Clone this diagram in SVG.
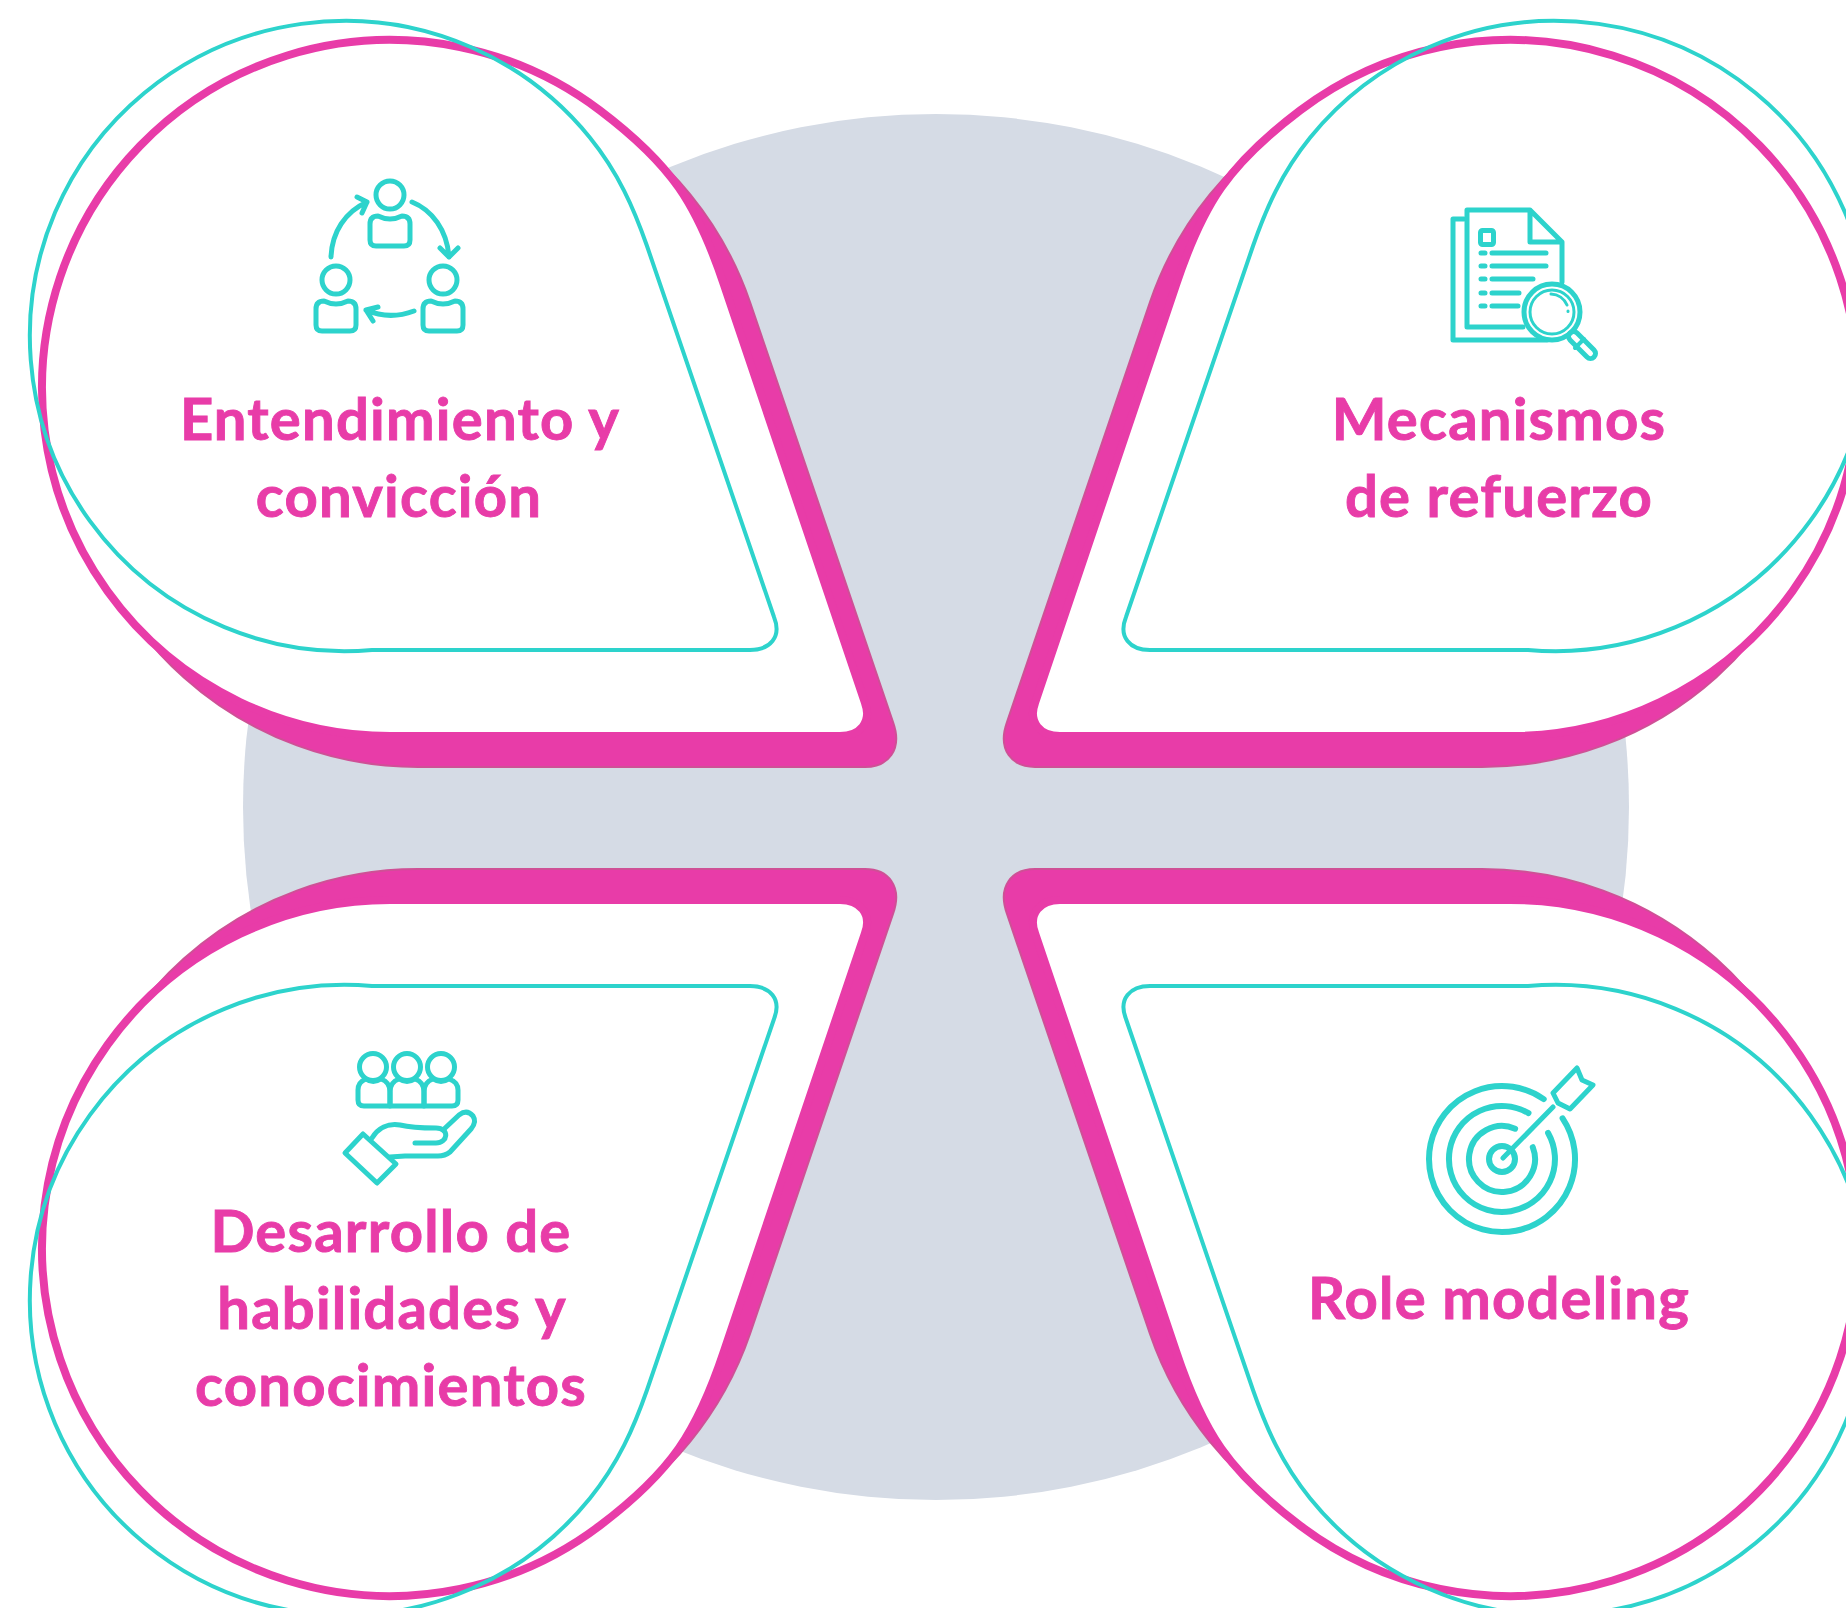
<svg xmlns="http://www.w3.org/2000/svg" xmlns:xlink="http://www.w3.org/1999/xlink" width="1846" height="1608" viewBox="0 0 1846 1608">
<style>
.rim{fill:#E83CA8;stroke:#CF5096;stroke-width:2}
.face{fill:#fff;stroke:#E83CA8;stroke-width:8}
.line{fill:none;stroke:#2DD3CC;stroke-width:4}
.ic{fill:none;stroke:#2DD3CC;stroke-width:5;stroke-linecap:round;stroke-linejoin:round}
.lbl{font-family:"Lato","Liberation Sans",sans-serif;font-weight:700;font-size:58px;letter-spacing:1.2px;fill:#E83CA8;stroke:#E83CA8;stroke-width:.9px;text-anchor:middle}
</style>
<defs>
<g id="drop">
<path class="rim" d="M750,302 L893,722 C903,750 888,767 865,767 L418,767 A351,351 0 1 1 750,302 Z"/>
<path class="face" d="M724,285 L865,703 C872,722 860,736 840,736 L390,736 A348,348 0 1 1 600,110.5 C671.8,164.8 697,204 724,285 Z"/>
<path class="line" d="M647,246 L774,617 C782,637 770,650 750,650 L372,650 A315.16,315.16 0 1 1 590,137.76 C618.3,172.7 633.8,208.2 647,246 Z"/>
</g>
<g id="person">
<circle class="ic" cx="0" cy="0" r="14"/>
<path class="ic" d="M-12,21 Q0,27 12,21 Q20,21 20,29 V45 Q20,51 14,51 H-14 Q-20,51 -20,45 V29 Q-20,21 -12,21 Z"/>
</g>
</defs>
<rect width="1846" height="1608" fill="#fff"/>
<circle id="backdrop" cx="936" cy="807" r="693" fill="#D5DBE5"/>
<g id="connectors"></g>
<g id="node-entendimiento">
<use href="#drop"/>
<use href="#person" x="390" y="195"/>
<use href="#person" x="336" y="280"/>
<use href="#person" x="443" y="280"/>
<path class="ic" d="M331,257 C332,232 345,212 367,202 M357,197 L367,202 L362,213"/>
<path class="ic" d="M412,202 C432,210 447,230 449,257 M440,248 L449,257 L458,248"/>
<path class="ic" d="M414,311 C398,317 382,317 366,310 M378,307 L366,310 L373,321"/>
<text class="lbl" x="400" y="440">Entendimiento y</text>
<text class="lbl" x="399" y="517">convicción</text>
</g>
<g id="node-mecanismos">
<use href="#drop" transform="translate(1900,0) scale(-1,1)"/>
<path class="ic" d="M1464,219 H1453 V340 H1547"/>
<path class="ic" d="M1523,327 H1467 V210 H1530 L1562,242 V282 M1530,210 V242 H1562"/>
<rect class="ic" x="1480.5" y="230.5" width="13" height="14" rx="2"/>
<path class="ic" d="M1481,253 H1485 M1492,253 H1546 M1481,266 H1485 M1492,266 H1546 M1481,279 H1485 M1492,279 H1533 M1481,293 H1485 M1492,293 H1519 M1481,306 H1485 M1492,306 H1518"/>
<circle class="ic" cx="1552" cy="312" r="28"/>
<circle class="ic" cx="1552" cy="312" r="22" style="stroke-width:3"/>
<path class="ic" d="M1551,294 A18,18 0 0 1 1567,305 M1568,311 V311.5" style="stroke-width:3"/>
<rect class="ic" x="0" y="-5" width="34" height="10" rx="5" transform="translate(1570,333) rotate(45)"/>
<path class="ic" d="M1575,348 L1584,339" style="stroke-width:4"/>
<text class="lbl" x="1499" y="440">Mecanismos</text>
<text class="lbl" x="1499" y="517">de refuerzo</text>
</g>
<g id="node-desarrollo">
<use href="#drop" transform="translate(0,1636) scale(1,-1)"/>
<circle class="ic" cx="373" cy="1067" r="13.5"/>
<circle class="ic" cx="407" cy="1067" r="13.5"/>
<circle class="ic" cx="441" cy="1067" r="13.5"/>
<path class="ic" d="M366,1079 Q373,1084 381,1079 Q390,1082 390,1092 V1106 H364 Q358,1106 358,1100 V1090 Q358,1082 366,1079 Z"/>
<path class="ic" d="M399,1079 Q407,1084 415,1079 Q424,1082 424,1092 V1106 H390 V1092 Q390,1082 399,1079 Z"/>
<path class="ic" d="M433,1079 Q441,1084 449,1079 Q458,1082 458,1090 V1100 Q458,1106 452,1106 H424 V1092 Q424,1082 433,1079 Z"/>
<path class="ic" d="M363,1134 L345,1153 L377,1183 L396,1164 Z"/>
<path class="ic" d="M372,1138 C378,1128 388,1123 400,1125 C412,1128 425,1128 436,1128 C450,1128 448,1143 436,1143 H415"/>
<path class="ic" d="M443,1130 L459,1115 Q467,1109 473,1116 Q477,1122 471,1129 L450,1152 Q445,1156 438,1156 H405 L390,1157"/>
<text class="lbl" x="391" y="1252">Desarrollo de</text>
<text class="lbl" x="392" y="1329">habilidades y</text>
<text class="lbl" x="391" y="1406">conocimientos</text>
</g>
<g id="node-role">
<use href="#drop" transform="translate(1900,1636) scale(-1,-1)"/>
<g class="ic" style="stroke-width:6">
<path d="M1543.7,1099.1 A73,73 0 1 0 1562.6,1118.3"/>
<path d="M1528.5,1113.1 A53,53 0 1 0 1548.1,1132.9"/>
<path d="M1515.1,1128.7 A33,33 0 1 0 1532.8,1147.2"/>
<circle cx="1502" cy="1159" r="13"/>
</g>
<path class="ic" d="M1503,1158 L1553,1107 M1553,1093 L1577,1068 L1582,1080 L1593,1085 L1570,1109 L1558,1103 Z" style="stroke-width:5"/>
<text class="lbl" x="1499" y="1319">Role modeling</text>
</g>
</svg>
